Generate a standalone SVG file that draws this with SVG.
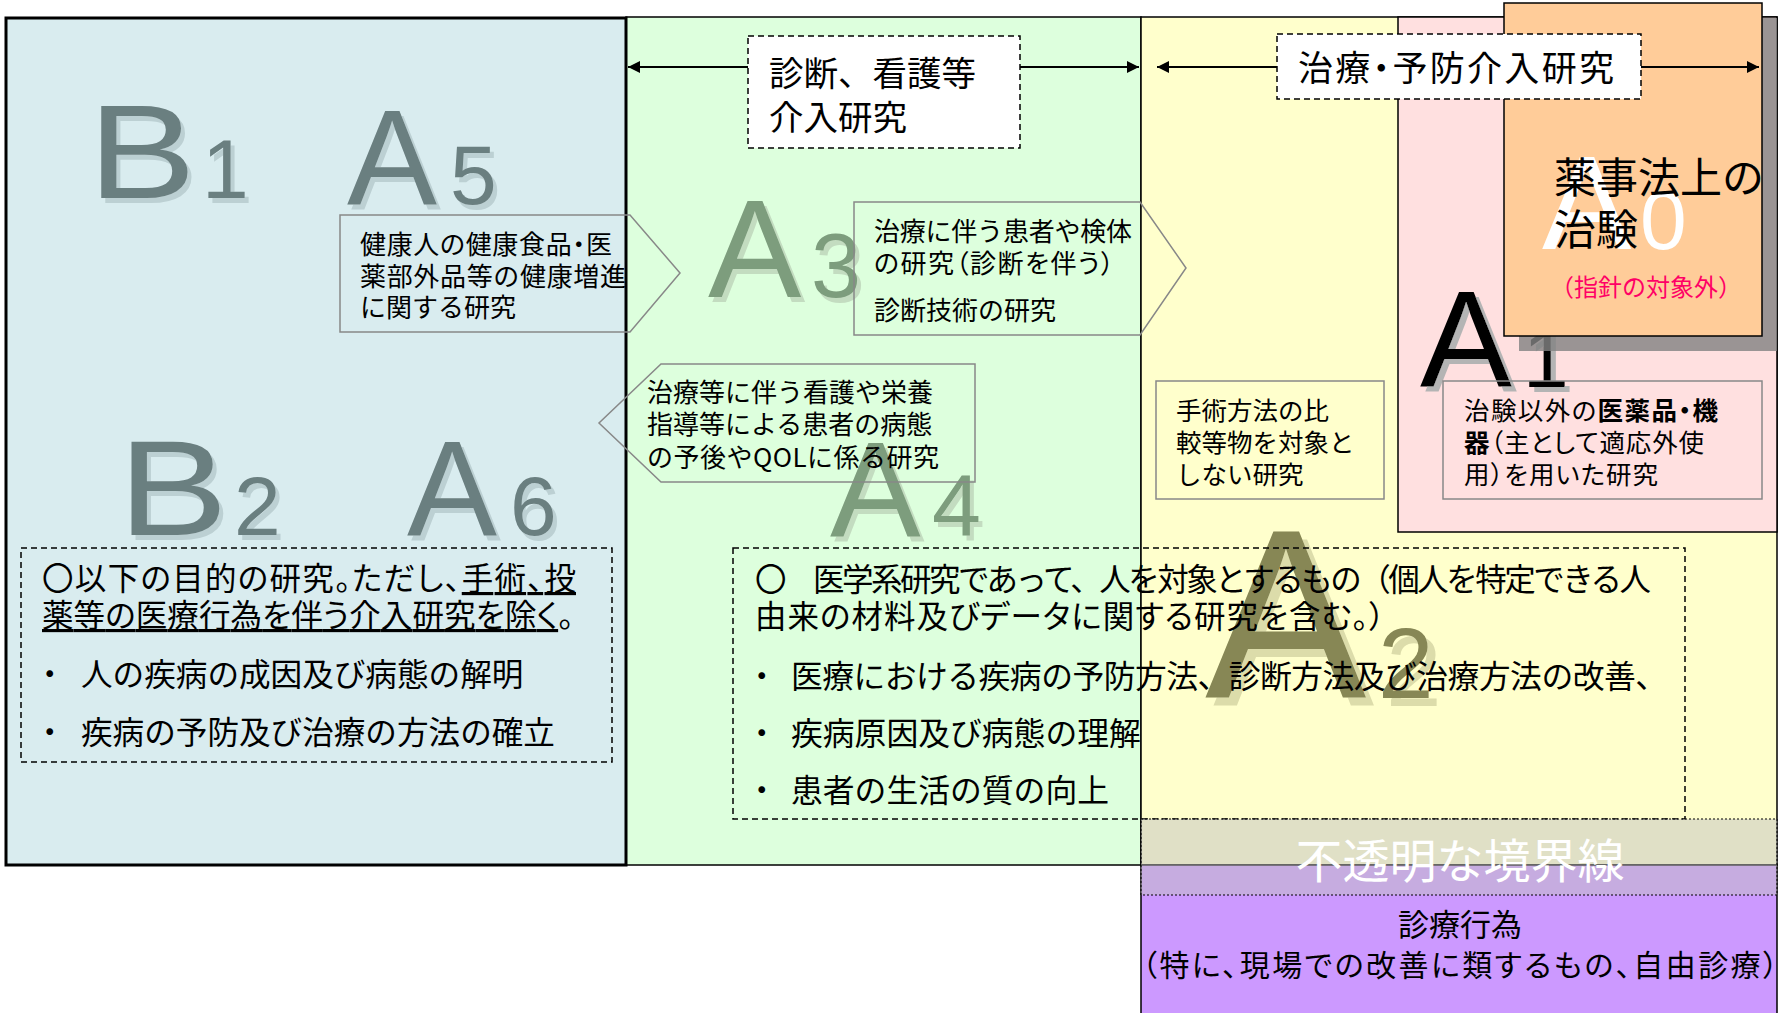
<svg xmlns="http://www.w3.org/2000/svg" width="1782" height="1013" viewBox="0 0 1782 1013">
<defs>
<style>
.t{font-family:"Noto Sans CJK JP","Noto Sans",sans-serif;fill:#000}
.p{font-feature-settings:"palt"}
.big{font-family:"Liberation Sans",Arial,sans-serif}
.cb{fill:#6B7F80}
.cg{fill:#7D9D7D}
.co{fill:#878754}
.pent{fill:none;stroke:#888;stroke-width:1.5}
.dash{fill:none;stroke:#000;stroke-width:1.5;stroke-dasharray:6 4}
.hdr{fill:#fff;stroke:#000;stroke-width:1.5;stroke-dasharray:6 4}
.reg{stroke:#000;stroke-width:1.5}
.u{text-decoration:underline}
</style>
<filter id="shB" x="-20%" y="-20%" width="140%" height="140%">
<feOffset in="SourceAlpha" dx="4" dy="5" result="o"/><feFlood flood-color="#BCD0D3"/><feComposite in2="o" operator="in" result="s"/>
<feMerge><feMergeNode in="s"/><feMergeNode in="SourceGraphic"/></feMerge></filter>
<filter id="shG" x="-20%" y="-20%" width="140%" height="140%">
<feOffset in="SourceAlpha" dx="4" dy="5" result="o"/><feFlood flood-color="#C3DCC0"/><feComposite in2="o" operator="in" result="s"/>
<feMerge><feMergeNode in="s"/><feMergeNode in="SourceGraphic"/></feMerge></filter>
<filter id="shO" x="-20%" y="-20%" width="140%" height="140%">
<feOffset in="SourceAlpha" dx="8" dy="8" result="o"/><feFlood flood-color="#DCDCAA"/><feComposite in2="o" operator="in" result="s"/>
<feMerge><feMergeNode in="s"/><feMergeNode in="SourceGraphic"/></feMerge></filter>
<filter id="shK" x="-20%" y="-20%" width="140%" height="140%">
<feOffset in="SourceAlpha" dx="5" dy="5" result="o"/><feFlood flood-color="#B4B4B4"/><feComposite in2="o" operator="in" result="s"/>
<feMerge><feMergeNode in="s"/><feMergeNode in="SourceGraphic"/></feMerge></filter>
<marker id="arr" viewBox="0 0 10 10" refX="10" refY="5" markerWidth="14" markerHeight="12" markerUnits="userSpaceOnUse" orient="auto-start-reverse">
<path d="M0,0 L10,5 L0,10 z" fill="#000"/></marker>
</defs>

<rect width="1782" height="1013" fill="#fff"/>

<g id="regions">
<rect id="region-green" class="reg" x="626" y="17" width="515" height="848" fill="#DDFFDD"/>
<rect id="region-yellow" class="reg" x="1141" y="17" width="636" height="848" fill="#FFFFCC"/>
<rect id="region-purple" class="reg" x="1141" y="865" width="636" height="170" fill="#CC99FF"/>
<rect id="region-pink" class="reg" x="1398" y="17" width="379" height="515" fill="#FFE0E0"/>
<rect id="region-blue" x="6" y="18" width="620" height="847" fill="#D9ECEF" stroke="#000" stroke-width="3"/>
</g>

<g id="labels">
<text class="big cb" filter="url(#shB)" x="88" y="198" font-size="133"><tspan textLength="108" lengthAdjust="spacingAndGlyphs">B</tspan><tspan x="202" font-size="84">1</tspan></text>
<text class="big cb" filter="url(#shB)" x="347" y="204" font-size="135">A<tspan x="450" font-size="84">5</tspan></text>
<text class="big cb" filter="url(#shB)" x="118" y="535" font-size="135"><tspan textLength="110" lengthAdjust="spacingAndGlyphs">B</tspan><tspan x="234" font-size="84">2</tspan></text>
<text class="big cb" filter="url(#shB)" x="407" y="535" font-size="135">A<tspan x="510" font-size="84">6</tspan></text>
<text class="big cg" filter="url(#shG)" x="708" y="297" font-size="140">A<tspan x="811" font-size="90">3</tspan></text>
<text class="big cg" filter="url(#shG)" x="830" y="536" font-size="136">A<tspan x="932" font-size="88">4</tspan></text>
<text class="big co" filter="url(#shO)" x="1205" y="698" font-size="242">A<tspan x="1378" font-size="100">2</tspan></text>
<text class="big" fill="#000" filter="url(#shK)" x="1420" y="387" font-size="138">A<tspan x="1523" font-size="82">1</tspan></text>
</g>

<g id="node-chiken">
<rect x="1519" y="18" width="258" height="333" fill="#838383" fill-opacity="0.81"/>
<rect x="1504" y="3" width="258" height="333" fill="#FFCC99" stroke="#000" stroke-width="1.5"/>
<text class="big" fill="#fff" x="1542" y="249" font-size="134">A<tspan x="1640" font-size="84">0</tspan></text>
<text class="t" x="1554" y="193" font-size="42">薬事法上の</text>
<text class="t" x="1554" y="245" font-size="42">治験</text>
<text class="t" x="1646" y="296" font-size="24" text-anchor="middle" style="fill:#FF0066">（指針の対象外）</text>
</g>

<g id="node-a5">
<polygon class="pent" points="340,215 630,215 680,273 630,332 340,332"/>
<text class="t p" x="360" y="254" font-size="26" textLength="252">健康人の健康食品・医</text>
<text class="t" x="360" y="286" font-size="26" textLength="266">薬部外品等の健康増進</text>
<text class="t" x="360" y="317" font-size="26">に関する研究</text>
</g>

<g id="node-a3">
<polygon class="pent" points="854,202 1140,202 1186,268 1140,335 854,335"/>
<text class="t" x="874" y="241" font-size="26" textLength="258">治療に伴う患者や検体</text>
<text class="t p" x="874" y="273" font-size="26" textLength="240">の研究（診断を伴う）</text>
<text class="t" x="874" y="320" font-size="26">診断技術の研究</text>
</g>

<g id="node-a4">
<polygon class="pent" points="975,364 661,364 599,423 661,482 975,482"/>
<text class="t" x="647" y="402" font-size="26">治療等に伴う看護や栄養</text>
<text class="t" x="647" y="434" font-size="26">指導等による患者の病態</text>
<text class="t" x="647" y="467" font-size="26" textLength="292">の予後やQOLに係る研究</text>
</g>

<g id="node-surgery">
<rect class="pent" x="1156" y="381" width="228" height="118"/>
<text class="t" x="1176" y="420" font-size="25.5">手術方法の比</text>
<text class="t" x="1176" y="452" font-size="25.5">較等物を対象と</text>
<text class="t" x="1176" y="484" font-size="25.5">しない研究</text>
</g>

<g id="node-a1">
<rect class="pent" x="1443" y="381" width="319" height="118"/>
<text class="t p" x="1464" y="420" font-size="25.5" textLength="254">治験以外の<tspan font-weight="bold">医薬品・機</tspan></text>
<text class="t p" x="1464" y="452" font-size="25.5" textLength="240"><tspan font-weight="bold">器</tspan>（主として適応外使</text>
<text class="t p" x="1464" y="484" font-size="25.5" textLength="194">用）を用いた研究</text>
</g>

<g id="node-b2a6-desc">
<rect class="dash" x="21" y="548" width="591" height="214"/>
<text class="t p" x="42" y="590" font-size="31.5" textLength="534">〇以下の目的の研究。ただし、<tspan class="u">手術、投</tspan></text>
<text class="t p" x="42" y="627" font-size="31.5" textLength="532"><tspan class="u">薬等の医療行為を伴う介入研究を除く</tspan>。</text>
<text class="t" x="34" y="686" font-size="31.5">・</text>
<text class="t" x="81" y="686" font-size="31.6">人の疾病の成因及び病態の解明</text>
<text class="t" x="34" y="744" font-size="31.5">・</text>
<text class="t" x="81" y="744" font-size="31.6">疾病の予防及び治療の方法の確立</text>
</g>

<g id="node-a2-desc">
<rect class="dash" x="733" y="548" width="952" height="271"/>
<text class="t" x="755" y="591" font-size="31.5" textLength="896">〇　医学系研究であって、人を対象とするもの（個人を特定できる人</text>
<text class="t p" x="755" y="628" font-size="31.5" textLength="630">由来の材料及びデータに関する研究を含む。）</text>
<text class="t" x="746" y="688" font-size="31.5">・</text>
<text class="t" x="791" y="688" font-size="31.8" textLength="876">医療における疾病の予防方法、診断方法及び治療方法の改善、</text>
<text class="t" x="746" y="745" font-size="31.5">・</text>
<text class="t" x="791" y="745" font-size="31.8">疾病原因及び病態の理解</text>
<text class="t" x="746" y="802" font-size="31.5">・</text>
<text class="t" x="791" y="802" font-size="31.8">患者の生活の質の向上</text>
</g>

<g id="node-boundary">
<rect x="1141" y="819" width="636" height="76" fill="#C0C0C0" fill-opacity="0.49" stroke="#000" stroke-width="1" stroke-dasharray="2 2"/>
<text class="t" x="1460" y="878" font-size="47" text-anchor="middle" style="fill:#fff">不透明な境界線</text>
</g>

<g id="node-shinryo">
<text class="t" x="1460" y="936" font-size="31" text-anchor="middle">診療行為</text>
<text class="t p" x="1460" y="976" font-size="30" text-anchor="middle" textLength="636">（特に、現場での改善に類するもの、自由診療）</text>
</g>

<g id="connectors">
<line x1="628" y1="67" x2="1139" y2="67" stroke="#000" stroke-width="2" marker-start="url(#arr)" marker-end="url(#arr)"/>
<line x1="1157" y1="67" x2="1759" y2="67" stroke="#000" stroke-width="2" marker-start="url(#arr)" marker-end="url(#arr)"/>
</g>

<g id="node-header-diag">
<rect class="hdr" x="748" y="36" width="272" height="112"/>
<text class="t" x="769" y="86" font-size="34.5">診断、看護等</text>
<text class="t" x="769" y="130" font-size="34.5">介入研究</text>
</g>

<g id="node-header-treat">
<rect class="hdr" x="1277" y="34" width="364" height="65"/>
<text class="t p" x="1298" y="81" font-size="35" textLength="316">治療・予防介入研究</text>
</g>
</svg>
